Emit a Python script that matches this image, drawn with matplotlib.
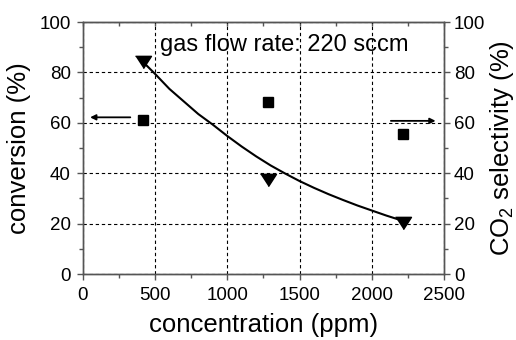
import numpy as np
import matplotlib
matplotlib.use("Agg")
import matplotlib.pyplot as plt
from matplotlib.ticker import MultipleLocator

plt.rcParams['font.family'] = ['Liberation Sans', 'DejaVu Sans']
plt.rcParams['mathtext.fontset'] = 'custom'
plt.rcParams['mathtext.rm'] = 'Liberation Sans'
plt.rcParams['mathtext.it'] = 'Liberation Sans'

# data
conc = [416, 1279, 2218]
conversion = [61.0, 68.4, 55.4]
selectivity = [84.0, 37.5, 20.3]

# fitted trend line
fit_conc = [416, 500, 600, 700, 800, 900, 1000, 1100, 1200, 1300, 1400,
            1500, 1600, 1700, 1800, 1900, 2000, 2100, 2220]
fit_sel = [84.3, 79.5, 73.5, 68.5, 63.5, 59.3, 54.8, 50.6, 46.7, 43.1, 39.9,
           36.9, 34.2, 31.7, 29.4, 27.2, 25.2, 23.2, 21.0]

tick_fs = 13.5
label_fs = 18.5
spine_col = '#555555'

fig = plt.figure(figsize=(5.16, 3.40), dpi=100)
ax = fig.add_axes([0.160, 0.194, 0.701, 0.741])
ax2 = ax.twinx()

ax.set_xlim(0, 2500)
ax.set_ylim(0, 100)
ax2.set_ylim(0, 100)

ax.grid(True, which='major', color='black', linestyle=(0, (3, 2.5)), linewidth=0.8)

ax.plot(conc, conversion, linestyle='none', marker='s', markersize=7.5,
        color='black', zorder=5)
tri = [(-1, 0.77), (1, 0.77), (0, -0.77)]
ax2.plot(conc, selectivity, linestyle='none', marker=tri, markersize=11.5,
         color='black', zorder=5)
ax2.plot(fit_conc, fit_sel, color='black', linewidth=1.5)

# arrows showing which axis each series belongs to
ax.annotate('', xy=(52, 62.2), xytext=(330, 62.2),
            arrowprops=dict(arrowstyle='-|>', color='black', lw=1.3,
                            mutation_scale=8, shrinkA=0, shrinkB=0))
ax2.annotate('', xy=(2440, 60.8), xytext=(2131, 60.8),
             arrowprops=dict(arrowstyle='-|>', color='black', lw=1.3,
                             mutation_scale=8, shrinkA=0, shrinkB=0))

ax.text(535, 91, 'gas flow rate: 220 sccm', fontsize=17, va='center', ha='left')

ax.xaxis.set_major_locator(MultipleLocator(500))
ax.xaxis.set_minor_locator(MultipleLocator(250))
for a in (ax, ax2):
    a.yaxis.set_major_locator(MultipleLocator(20))
    a.yaxis.set_minor_locator(MultipleLocator(10))
    for s in a.spines.values():
        s.set_color(spine_col)
        s.set_linewidth(1.0)

ax.tick_params(axis='both', which='major', direction='out', length=4,
               width=1, color=spine_col, labelsize=tick_fs)
ax.tick_params(axis='both', which='minor', direction='out', length=3,
               width=1, color=spine_col)
ax.tick_params(axis='y', pad=4.5)
ax.tick_params(axis='x', pad=5)
ax2.tick_params(axis='y', which='major', direction='out', length=4, width=1,
                color=spine_col, labelsize=tick_fs, pad=3)
ax2.tick_params(axis='y', which='minor', direction='out', length=3, width=1,
                color=spine_col)

# inward ticks on the top edge
top = ax.secondary_xaxis('top')
top.xaxis.set_major_locator(MultipleLocator(500))
top.xaxis.set_minor_locator(MultipleLocator(250))
top.tick_params(which='both', direction='in', length=3, width=1,
                color=spine_col, labeltop=False)
top.spines['top'].set_color(spine_col)

ax.set_xlabel('concentration (ppm)', fontsize=label_fs, labelpad=7)
ax.set_ylabel('conversion (%)', fontsize=label_fs, labelpad=6)
ax2.set_ylabel('CO$_2$ selectivity (%)', fontsize=label_fs, labelpad=2)

fig.savefig('out.png', dpi=100)
